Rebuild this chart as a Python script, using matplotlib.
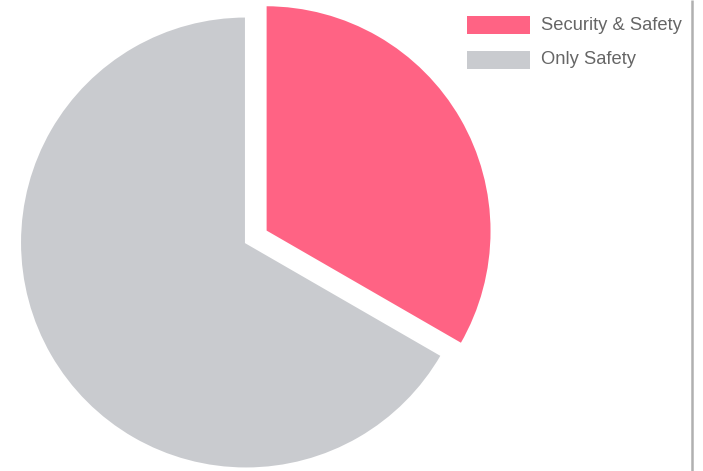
import matplotlib.pyplot as plt
from matplotlib.patches import Rectangle

labels = ["Security & Safety", "Only Safety"]
shares = [33.33, 66.67]
colors = ["#ff6384", "#c9cbcf"]
explode = [0.1, 0.0]

W, H = 703, 471
fig = plt.figure(figsize=(W / 100, H / 100), dpi=100)
ax = fig.add_axes([0, 0, 1, 1])

# pie in pixel units so the layout is easy to place;
# explode is an absolute offset, so scale it by the radius
cx, cy, r = 246, H - 242.5, 226
ax.pie(shares, colors=colors, explode=[e * r for e in explode],
       startangle=90, counterclock=False,
       center=(cx, cy), radius=r,
       wedgeprops=dict(edgecolor="white", linewidth=1.5))
ax.set_xlim(0, W)
ax.set_ylim(0, H)
ax.set_aspect("equal")
ax.axis("off")

# legend boxes + labels, top right
for i, (label, color) in enumerate(zip(labels, colors)):
    top = 15.5 + i * 35
    ax.add_patch(Rectangle((467, H - top - 18), 63, 18, facecolor=color, edgecolor="none"))
    ax.text(541, H - top - 14, label, fontsize=13.2, color="#666666",
            family="Liberation Sans", va="baseline", ha="left")

# right border
ax.plot([692, 692], [0, H], color="#b0b0b0", linewidth=1.8, solid_capstyle="butt")

fig.savefig("out.png", dpi=100, facecolor="white")
plt.close(fig)
